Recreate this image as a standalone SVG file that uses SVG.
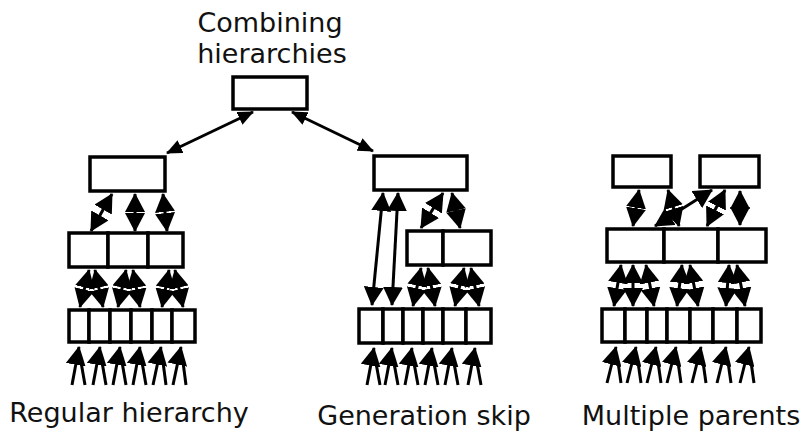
<svg xmlns="http://www.w3.org/2000/svg" width="806" height="433" viewBox="0 0 806 433">
<defs>
<marker id="ah" markerUnits="userSpaceOnUse" viewBox="0 0 19 20" refX="18" refY="10" markerWidth="19" markerHeight="20" orient="auto-start-reverse">
<path d="M0,0 L19,10 L0,20 z" fill="#000"/>
</marker>
<marker id="as" markerUnits="userSpaceOnUse" viewBox="0 0 16 14" refX="15" refY="7" markerWidth="16" markerHeight="14" orient="auto-start-reverse">
<path d="M0,0 L16,7 L0,14 z" fill="#000"/>
</marker>
<style>
.b{fill:#fff;stroke:#000;stroke-width:3.5}
.a{stroke:#000;stroke-width:3;fill:none;marker-start:url(#ah);marker-end:url(#ah)}
.s{stroke:#000;stroke-width:3;fill:none;marker-start:url(#as);marker-end:url(#as)}
.i{stroke:#000;stroke-width:3;fill:none;marker-end:url(#ah)}
.l{stroke:#000;stroke-width:3;fill:none}
.t{font-family:"DejaVu Sans",Verdana,sans-serif;font-size:27px;fill:#111;text-anchor:middle}
</style>
</defs>
<rect width="806" height="433" fill="#fff"/>
<g id="title"><text class="t" x="270" y="32">Combining</text><text class="t" x="272" y="63">hierarchies</text></g>
<g id="root"><rect class="b" x="233" y="77" width="74" height="32"/></g>
<g id="labels">
<text class="t" x="129" y="422">Regular hierarchy</text>
<text class="t" x="424" y="425">Generation skip</text>
<text class="t" x="691" y="425">Multiple parents</text>
</g>
<g id="regular">
<rect class="b" x="90" y="157" width="75" height="34"/>
<rect class="b" x="69" y="233" width="39" height="34"/>
<rect class="b" x="108" y="233" width="40" height="34"/>
<rect class="b" x="148" y="233" width="35" height="34"/>
<rect class="b" x="69" y="310" width="20" height="32"/>
<rect class="b" x="89" y="310" width="21" height="32"/>
<rect class="b" x="110" y="310" width="21" height="32"/>
<rect class="b" x="131" y="310" width="21" height="32"/>
<rect class="b" x="152" y="310" width="20" height="32"/>
<rect class="b" x="172" y="310" width="23" height="32"/>
</g>
<g id="skip">
<rect class="b" x="374" y="156" width="93" height="34"/>
<rect class="b" x="407" y="231" width="36" height="34"/>
<rect class="b" x="443" y="231" width="48" height="34"/>
<rect class="b" x="359" y="309" width="24" height="34"/>
<rect class="b" x="383" y="309" width="20" height="34"/>
<rect class="b" x="403" y="309" width="20" height="34"/>
<rect class="b" x="423" y="309" width="20" height="34"/>
<rect class="b" x="443" y="309" width="23" height="34"/>
<rect class="b" x="466" y="309" width="25" height="34"/>
</g>
<g id="multiple">
<rect class="b" x="613" y="156" width="58" height="31"/>
<rect class="b" x="700" y="156" width="59" height="31"/>
<rect class="b" x="607" y="229" width="57" height="33"/>
<rect class="b" x="664" y="229" width="54" height="33"/>
<rect class="b" x="718" y="229" width="48" height="33"/>
<rect class="b" x="602" y="309" width="23" height="33"/>
<rect class="b" x="625" y="309" width="22" height="33"/>
<rect class="b" x="647" y="309" width="20" height="33"/>
<rect class="b" x="667" y="309" width="23" height="33"/>
<rect class="b" x="690" y="309" width="23" height="33"/>
<rect class="b" x="713" y="309" width="24" height="33"/>
<rect class="b" x="737" y="309" width="24" height="33"/>
</g>
<g id="connectors">
<line class="s" x1="253" y1="112" x2="167" y2="153"/>
<line class="s" x1="292" y1="112" x2="373" y2="151"/>
<!-- regular -->
<line class="a" x1="112" y1="194" x2="91" y2="231"/>
<line class="a" x1="135" y1="194" x2="135" y2="231"/>
<line class="a" x1="163" y1="194" x2="167" y2="231"/>
<line class="a" x1="89" y1="270" x2="80" y2="307"/>
<line class="a" x1="95" y1="270" x2="103" y2="307"/>
<line class="a" x1="126" y1="270" x2="118" y2="307"/>
<line class="a" x1="133" y1="270" x2="140" y2="307"/>
<line class="a" x1="169" y1="270" x2="162" y2="307"/>
<line class="a" x1="175" y1="270" x2="183" y2="307"/>
<!-- skip -->
<line class="a" x1="383" y1="193" x2="372" y2="305"/>
<line class="a" x1="398" y1="193" x2="392" y2="305"/>
<line class="a" x1="443" y1="193" x2="421" y2="228"/>
<line class="a" x1="452" y1="193" x2="460" y2="228"/>
<line class="a" x1="421" y1="268" x2="413" y2="306"/>
<line class="a" x1="428" y1="268" x2="435" y2="306"/>
<line class="a" x1="464" y1="268" x2="455" y2="306"/>
<line class="a" x1="471" y1="268" x2="479" y2="306"/>
<!-- multiple -->
<line class="a" x1="639" y1="190" x2="633" y2="226"/>
<line class="a" x1="668" y1="190" x2="679" y2="226"/>
<line class="a" x1="712" y1="190" x2="655" y2="226"/>
<line class="a" x1="725" y1="190" x2="707" y2="226"/>
<line class="a" x1="740" y1="191" x2="740" y2="225"/>
<line class="a" x1="621" y1="265" x2="614" y2="306"/>
<line class="a" x1="633" y1="265" x2="633" y2="306"/>
<line class="a" x1="646" y1="265" x2="654" y2="306"/>
<line class="a" x1="682" y1="265" x2="677" y2="306"/>
<line class="a" x1="690" y1="265" x2="698" y2="306"/>
<line class="a" x1="729" y1="265" x2="726" y2="306"/>
<line class="a" x1="737" y1="265" x2="745" y2="306"/>
<!-- inputs -->
<path class="i" d="M72,385 L79,347"/><path class="l" d="M81,362 L85,385"/>
<path class="i" d="M93,385 L100,347"/><path class="l" d="M102,362 L106,385"/>
<path class="i" d="M113,385 L120,347"/><path class="l" d="M122,362 L126,385"/>
<path class="i" d="M133,385 L140,347"/><path class="l" d="M142,362 L146,385"/>
<path class="i" d="M153,385 L161,347"/><path class="l" d="M163,362 L166,385"/>
<path class="i" d="M173,385 L181,347"/><path class="l" d="M183,362 L186,385"/>
<path class="i" d="M367,385 L374,348"/><path class="l" d="M376,363 L380,385"/>
<path class="i" d="M385,385 L392,348"/><path class="l" d="M394,363 L398,385"/>
<path class="i" d="M405,385 L412,348"/><path class="l" d="M414,363 L418,385"/>
<path class="i" d="M425,385 L432,348"/><path class="l" d="M434,363 L438,385"/>
<path class="i" d="M445,385 L452,348"/><path class="l" d="M454,363 L458,385"/>
<path class="i" d="M468,385 L475,348"/><path class="l" d="M477,363 L481,385"/>
<path class="i" d="M607,383 L616,347"/><path class="l" d="M618,362 L621,383"/>
<path class="i" d="M627,383 L636,347"/><path class="l" d="M638,362 L641,383"/>
<path class="i" d="M647,383 L656,347"/><path class="l" d="M658,362 L661,383"/>
<path class="i" d="M667,383 L676,347"/><path class="l" d="M678,362 L681,383"/>
<path class="i" d="M692,383 L701,347"/><path class="l" d="M703,362 L706,383"/>
<path class="i" d="M717,383 L726,347"/><path class="l" d="M728,362 L731,383"/>
<path class="i" d="M740,383 L749,347"/><path class="l" d="M751,362 L754,383"/>
</g>
</svg>
